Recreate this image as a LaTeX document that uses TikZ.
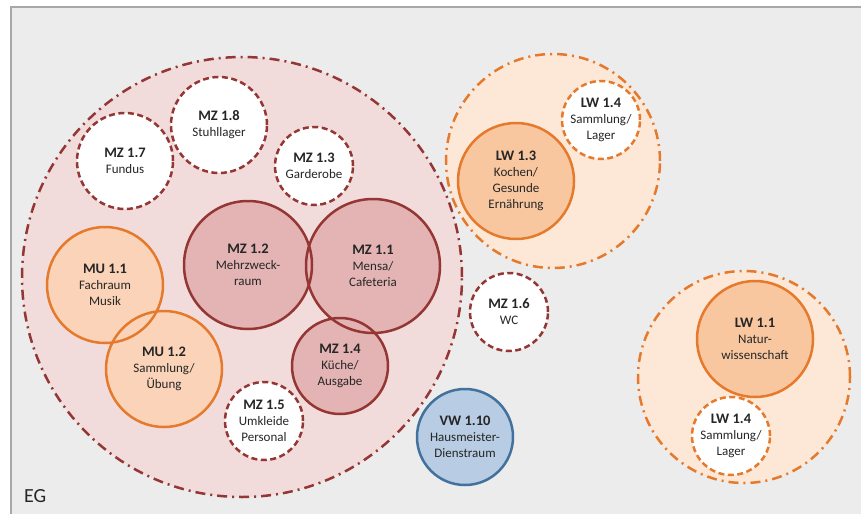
\documentclass[tikz,border=0pt]{standalone}
\usepackage{fontspec}
\setmainfont{Carlito}
\definecolor{mzline}{HTML}{943634}
\definecolor{mzbg}{HTML}{F2DCDB}
\definecolor{mzfill}{HTML}{E3B4B3}
\definecolor{orline}{HTML}{E57A2C}
\definecolor{mufill}{HTML}{FAD3B8}
\definecolor{lwbg}{HTML}{FDE8D8}
\definecolor{lwfill}{HTML}{F8C7A0}
\definecolor{vwfill}{HTML}{B8CCE4}
\definecolor{vwline}{HTML}{41719C}
\definecolor{bgc}{HTML}{ECECEC}
\definecolor{frame}{HTML}{A8A8A8}
\definecolor{txtc}{HTML}{262626}
\newcommand{\ttl}[1]{{\fontsize{14.5}{16}\selectfont\bfseries #1}}
\begin{document}
\begin{tikzpicture}[x=1pt,y=-1pt,
  room/.style={circle, inner sep=0pt, align=center, text=txtc,
    font=\fontsize{13}{16}\selectfont},
  zone/.style={circle, inner sep=0pt, line width=2.5pt,
    dash pattern=on 10pt off 5pt on 2pt off 5pt},
  dashroom/.style={room, draw=mzline, fill=white, line width=2.5pt,
    dash pattern=on 6pt off 3.5pt},
  solidline/.style={draw=#1, line width=2.5pt},
]
\useasboundingbox (0,0) rectangle (861,514);
% background frame
\fill[white] (0,0) rectangle (861,514);
\fill[bgc] (11,7) rectangle (861,514);
\draw[frame, line width=2pt] (11,514) -- (11,7) -- (861,7);

% zones
\node[zone, draw=mzline, fill=mzbg, minimum size=440pt] (mzzone) at (242,277) {};
\node[zone, draw=orline, fill=lwbg, minimum size=214pt] (lwzone1) at (553,161) {};
\node[zone, draw=orline, fill=lwbg, minimum size=212pt] (lwzone2) at (744,377) {};

% dashed rooms in MZ zone
\node[dashroom, minimum size=96pt] (mz17) at (125,161) {\ttl{MZ 1.7}\\Fundus};
\node[dashroom, minimum size=96pt] (mz18) at (219,125) {\ttl{MZ 1.8}\\Stuhllager};
\node[dashroom, minimum size=78pt] (mz13) at (314,166) {\ttl{MZ 1.3}\\Garderobe};
\node[dashroom, minimum size=78pt] (mz15) at (264,421) {\ttl{MZ 1.5}\\Umkleide\\Personal};
\node[dashroom, minimum size=78pt] (mz16) at (509,312) {\ttl{MZ 1.6}\\WC};

% overlapping solid rooms: fills first
\node[room, fill=mzfill, minimum size=128pt] (mz12) at (248,265) {\ttl{MZ 1.2}\\Mehrzweck-\\raum};
\node[room, fill=mzfill, minimum size=134pt] (mz11) at (373,266) {\ttl{MZ 1.1}\\Mensa/\\Cafeteria};
\node[room, fill=mzfill, minimum size=96pt] (mz14) at (340,366) {\ttl{MZ 1.4}\\Küche/\\Ausgabe};
\node[room, fill=mufill, minimum size=116pt] (mu11) at (105,285) {\ttl{MU 1.1}\\Fachraum\\Musik};
\node[room, fill=mufill, minimum size=116pt] (mu12) at (164,369) {\ttl{MU 1.2}\\Sammlung/\\Übung};
% then borders
\draw[solidline=mzline] (mz12.center) circle[radius=64];
\draw[solidline=mzline] (mz11.center) circle[radius=67];
\draw[solidline=mzline] (mz14.center) circle[radius=48];
\draw[solidline=orline] (mu11.center) circle[radius=58];
\draw[solidline=orline] (mu12.center) circle[radius=58];

% VW
\node[room, fill=vwfill, draw=vwline, line width=2.5pt, minimum size=96pt] (vw110) at (465,437) {\ttl{VW 1.10}\\Hausmeister-\\Dienstraum};

% LW rooms
\node[room, fill=lwfill, draw=orline, line width=2.5pt, minimum size=116pt] (lw13) at (516,181) {\ttl{LW 1.3}\\Kochen/\\Gesunde\\Ernährung};
\node[room, fill=white, draw=orline, line width=2.5pt, dash pattern=on 6pt off 3.5pt, minimum size=78pt] (lw14a) at (601,120) {\ttl{LW 1.4}\\Sammlung/\\Lager};
\node[room, fill=lwfill, draw=orline, line width=2.5pt, minimum size=116pt] (lw11) at (755,339) {\ttl{LW 1.1}\\Natur-\\wissenschaft};
\node[room, fill=white, draw=orline, line width=2.5pt, dash pattern=on 6pt off 3.5pt, minimum size=78pt] (lw14b) at (731,436) {\ttl{LW 1.4}\\Sammlung/\\Lager};

% floor label
\node[anchor=base west, inner sep=0pt, text=txtc, font=\fontsize{20}{20}\selectfont] (eg) at (24,502) {EG};
\end{tikzpicture}
\end{document}
